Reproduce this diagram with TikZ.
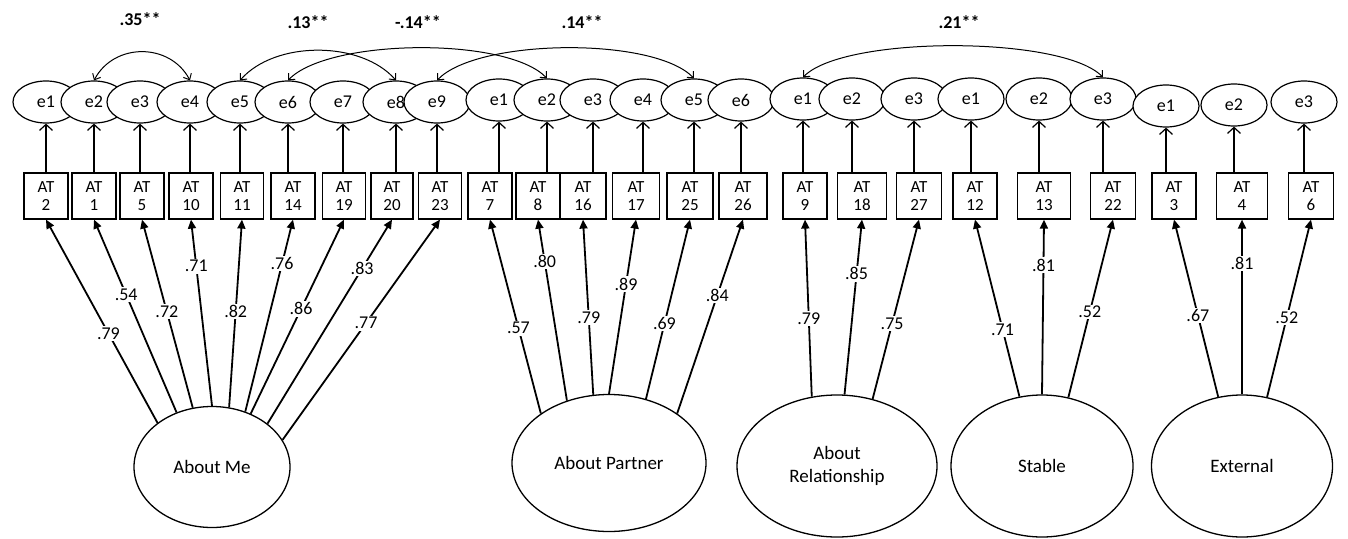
\documentclass[tikz,border=0pt]{standalone}
\usepackage{fontspec}
\setmainfont{Carlito}
\usetikzlibrary{arrows.meta,shapes.geometric}

\begin{document}
\begin{tikzpicture}[x=1pt,y=-1pt,font=\fontsize{18}{20}\selectfont,
  lat/.style={draw,ellipse,line width=1.3pt,inner sep=0pt,align=center,font=\fontsize{19}{23}\selectfont},
  err/.style={draw,ellipse,fill=white,line width=1.2pt,inner sep=0pt,minimum width=66pt,minimum height=42pt},
  item/.style={draw,rectangle,fill=white,line width=1.2pt,minimum height=46pt,inner sep=0pt,align=center,font=\fontsize{17}{18}\selectfont},
  load/.style={line width=1.8pt,-{Triangle[length=9pt,width=8pt]}},
  res/.style={line width=1.2pt,-{Straight Barb[length=6pt,width=13pt]}},
  corr/.style={line width=1pt,{Straight Barb[length=5pt,width=9pt]}-{Straight Barb[length=5pt,width=9pt]}},
  wt/.style={fill=white,inner sep=1.5pt},
  r/.style={font=\fontsize{18}{20}\selectfont\bfseries}]
  \useasboundingbox (0,0) rectangle (1348,538);

  \node[lat,minimum width=156pt,minimum height=121pt] (me) at (212,467) {About Me};
  \node[lat,minimum width=194pt,minimum height=137pt] (pa) at (609,463) {About Partner};
  \node[lat,minimum width=200pt,minimum height=142pt] (re) at (837,466) {About\\Relationship};
  \node[lat,minimum width=182pt,minimum height=142pt] (st) at (1042,466) {Stable};
  \node[lat,minimum width=181pt,minimum height=142pt] (ex) at (1242,466) {External};

  \foreach \n/\bx/\bw/\ex/\ey/\el/\at in {
    1/46/44/46/102/e1/2, 2/94/44/94/102/e2/1, 3/142/44/140/102/e3/5,
    4/191/44/190/102/e4/10, 5/242/43/240/102/e5/11, 6/293/44/288/102/e6/14,
    7/344/43/343/102/e7/19, 8/392/42/396/102/e8/20, 9/440/43/437/102/e9/23,
    10/490/44/499/100/e1/7, 11/538/44/547/100/e2/8, 12/583/46/593/100/e3/16,
    13/636/47/643/100/e4/17, 14/690/46/694/100/e5/25, 15/743/48/741/100/e6/26,
    16/805/44/803/99/e1/9, 17/862/49/852/99/e2/18, 18/919/45/914/99/e3/27,
    19/975/44/971/99/e1/12, 20/1044/53/1039/99/e2/13, 21/1113/45/1103/99/e3/22,
    22/1174/44/1166/106/e1/3, 23/1242/51/1234/105/e2/4, 24/1311/45/1304/102/e3/6}{
    \node[item,minimum width=\bw] (b\n) at (\bx,196) {AT\\\at};
    \node[err] (e\n) at (\ex,\ey) {\el};
    \draw[res] (e\n.south |- b\n.north) -- (e\n.south);
  }

  \foreach \lv/\a/\n/\v/\p in {
    me/141/1/.79/.44, me/123/2/.54/.61, me/108/3/.72/.51, me/90/4/.71/.75,
    me/74/5/.82/.51, me/59/6/.76/.77, me/54/7/.86/.54, me/38/8/.83/.76, me/21/9/.77/.53,
    pa/144/10/.57/.44, pa/124/11/.80/.77, pa/103/12/.79/.44, pa/90/13/.89/.63,
    pa/60/14/.69/.42, pa/36/15/.84/.61,
    re/110/16/.79/.44, re/84/17/.85/.69, re/62/18/.75/.42,
    st/108/19/.71/.38, st/90/20/.81/.74, st/69/21/.52/.48,
    ex/109/22/.67/.46, ex/90/23/.81/.75, ex/70/24/.52/.45}
    \draw[load] (\lv.\a) -- node[wt,pos=\p] (l\n) {\v} (b\n.south);

  \draw[corr] (e2.north) .. controls +(20,-38) and +(-20,-38) .. (e4.north);
  \draw[corr] (e5.north) .. controls +(35,-40) and +(-35,-40) .. (e8.north);
  \draw[corr] (e6.north) .. controls +(40,-42) and +(-40,-42) .. (e11.north);
  \draw[corr] (e9.north) .. controls +(40,-42) and +(-40,-42) .. (e14.north);
  \draw[corr] (e16.north) .. controls +(40,-42) and +(-40,-42) .. (e21.north);

  \node[r] (c1) at (140,19) {.35**};
  \node[r] (c2) at (308,22) {.13**};
  \node[r] (c3) at (418,22) {-.14**};
  \node[r] (c4) at (582,22) {.14**};
  \node[r] (c5) at (959,22) {.21**};
\end{tikzpicture}
\end{document}
